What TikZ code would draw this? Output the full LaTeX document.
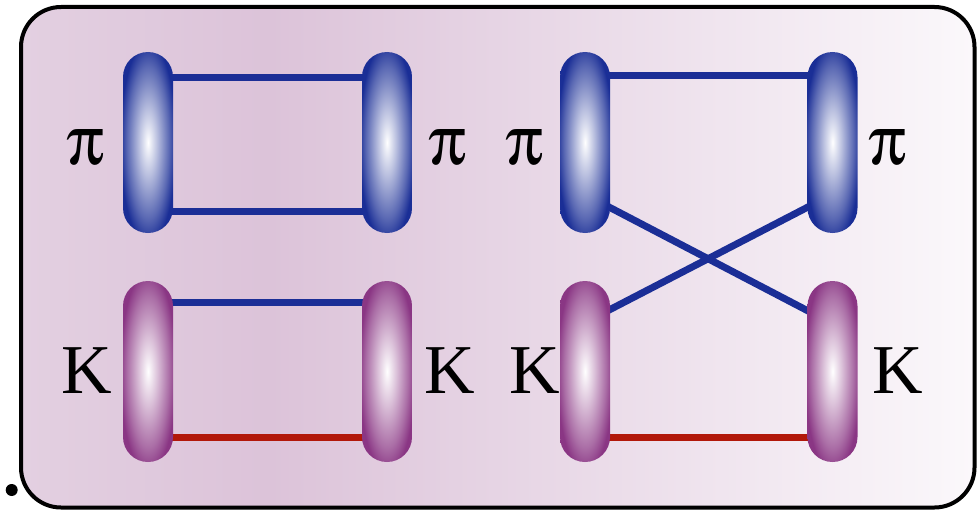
\documentclass[tikz,border=0pt]{standalone}
\usepackage{fontspec}
\setmainfont{Liberation Serif}
\usepackage[Symbol]{upgreek}
\usetikzlibrary{calc}
\definecolor{pblue}{RGB}{26,46,150}
\definecolor{ppurp}{RGB}{138,54,132}
\definecolor{lineblue}{RGB}{27,46,150}
\definecolor{linered}{RGB}{178,24,10}
\definecolor{bgA}{RGB}{227,208,225}
\definecolor{bgB}{RGB}{220,195,217}
\definecolor{bgC}{RGB}{251,248,251}
\pgfdeclarehorizontalshading{bgshade}{100bp}{color(0bp)=(bgA); color(25bp)=(bgA); color(38bp)=(bgB); color(75bp)=(bgC); color(100bp)=(bgC)}
\pgfdeclareradialshading{pillblue}{\pgfpoint{0bp}{0bp}}{color(0bp)=(white); color(9bp)=(pblue!30!white); color(21bp)=(pblue!72!white); color(28bp)=(pblue); color(50bp)=(pblue)}
\pgfdeclareradialshading{pillpurp}{\pgfpoint{0bp}{0bp}}{color(0bp)=(white); color(9bp)=(ppurp!30!white); color(21bp)=(ppurp!72!white); color(28bp)=(ppurp); color(50bp)=(ppurp)}
\pgfdeclarelayer{back}
\pgfdeclarelayer{mid}
\pgfsetlayers{back,mid,main}
\tikzset{
  pill/.style={rectangle, rounded corners=25pt, minimum width=50pt, minimum height=181pt, inner sep=0pt, draw=none},
  pillB/.style={pill, shade, shading=pillblue},
  pillP/.style={pill, shade, shading=pillpurp},
  conn/.style={line width=7pt, draw=lineblue},
  connR/.style={line width=7pt, draw=linered},
  lab/.style={inner sep=0pt, font=\fontsize{70}{84}\selectfont}
}
\begin{document}
\begin{tikzpicture}[x=1pt,y=-1pt]
\useasboundingbox (0,0) rectangle (979,511);
\begin{pgfonlayer}{back}
\path[shade, shading=bgshade, draw=black, line width=4pt, rounded corners=40pt] (21,7) rectangle (974.5,507.5);
\end{pgfonlayer}
\node[circle, fill=black, minimum size=12pt, inner sep=0pt] (dot) at (11.7,490) {};
% left diagram
\node[pillB] (a1) at (148,142.5) {};
\node[pillB] (a2) at (387,142.5) {};
\node[pillP] (a3) at (148,371.5) {};
\node[pillP] (a4) at (387,371.5) {};
% right diagram
\node[pillB] (b1) at (585,142.5) {};
\node[pillB] (b2) at (832.5,142.5) {};
\node[pillP] (b3) at (585,371.5) {};
\node[pillP] (b4) at (832.5,371.5) {};
\begin{pgfonlayer}{mid}
\draw[conn] ([yshift=65.5pt]a1.center) -- ([yshift=65.5pt]a2.center);
\draw[conn] ([yshift=-68.5pt]a1.center) -- ([yshift=-68.5pt]a2.center);
\draw[conn] ([yshift=69pt]a3.center) -- ([yshift=69pt]a4.center);
\draw[connR] ([yshift=-66pt]a3.center) -- ([yshift=-66pt]a4.center);
\draw[conn] ([yshift=67pt]b1.center) -- ([yshift=67pt]b2.center);
\draw[conn] ([yshift=-52pt]b1.center) -- ([yshift=47.8pt]b4.center);
\draw[conn] ([yshift=-51.8pt]b2.center) -- ([yshift=49pt]b3.center);
\draw[connR] ([yshift=-65.5pt]b3.center) -- ([yshift=-65.5pt]b4.center);
\end{pgfonlayer}
% labels
\node[lab] (l1) at (86,148) {$\uppi$};
\node[lab] (l2) at (447.5,148) {$\uppi$};
\node[lab] (l3) at (525,148) {$\uppi$};
\node[lab] (l4) at (888,148) {$\uppi$};
\node[lab] (k1) at (87,371) {K};
\node[lab] (k2) at (450,371) {K};
\node[lab] (k3) at (535,371) {K};
\node[lab] (k4) at (898,371) {K};
\end{tikzpicture}
\end{document}
